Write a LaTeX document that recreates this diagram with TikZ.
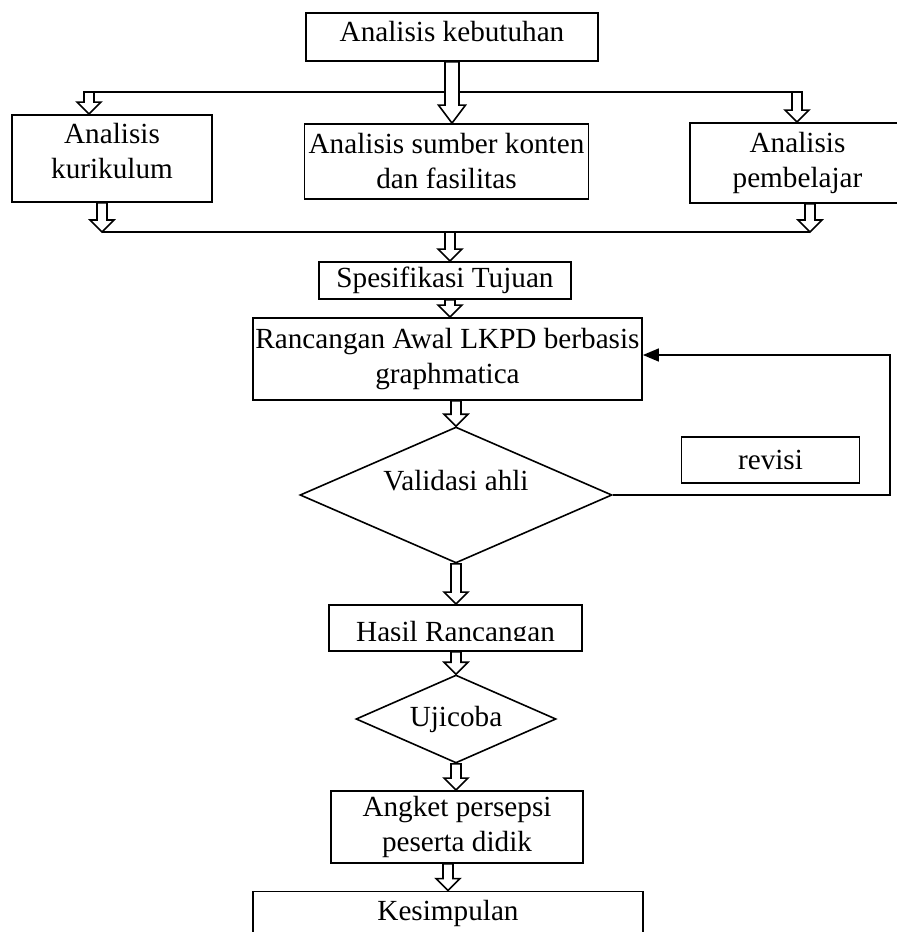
\documentclass[tikz,border=0pt]{standalone}
\usepackage{fontspec}
\setmainfont{Liberation Serif}
\usepackage{tikz}
\usetikzlibrary{shapes.geometric,arrows.meta,positioning,calc}
\newcommand{\flowfont}{\fontsize{14.6}{17.5}\selectfont}
% hollow block arrow pointing down: start, tip, half shaft, half head, head length
\newcommand{\blockarrow}[5]{%
  \draw[hollow] let \p1=#1, \p2=#2 in
    (\x2-#3,\y1) -- (\x2-#3,\y2+#5) -- (\x2-#4,\y2+#5) -- (\x2,\y2)
    -- (\x2+#4,\y2+#5) -- (\x2+#3,\y2+#5) -- (\x2+#3,\y1) -- cycle;}
\newcommand{\smallarrow}[2]{\blockarrow{#1}{#2}{2.5pt}{6pt}{6pt}}

\begin{document}
\begin{tikzpicture}[x=0.5pt, y=-0.5pt,
  box/.style={draw, rectangle, line width=0.9pt, inner sep=0pt, align=center, font=\flowfont},
  decision/.style={draw, diamond, line width=0.8pt, inner sep=0pt, font=\flowfont},
  hollow/.style={draw, fill=white, line width=0.8pt},
  txt/.style={inner sep=0pt, font=\flowfont}
]
\useasboundingbox (0,0) rectangle (896,932);

\node[box, minimum width=146pt, minimum height=24pt, text depth=6pt] (keb) at (452,37) {Analisis kebutuhan};
\node[box, minimum width=100pt, minimum height=43.5pt, text depth=8pt] (kur) at (112,158.5) {Analisis\\kurikulum};
\node[box, minimum width=142pt, minimum height=37.5pt] (sum) at (446.5,161.5) {Analisis sumber konten\\dan fasilitas};
\node[box, minimum width=107.5pt, minimum height=40pt] (pem) at (797.5,163) {Analisis\\pembelajar};
\node[box, minimum width=126pt, minimum height=18.5pt] (spe) at (445,280.5) {Spesifikasi Tujuan};
\node[box, minimum width=194.5pt, minimum height=41pt] (ran) at (447.5,359) {Rancangan Awal LKPD berbasis\\graphmatica};
\node[decision, aspect=2.3, minimum width=156pt, minimum height=68pt,
  label={[txt, yshift=7pt]center:Validasi ahli}] (val) at (456,495) {};
\node[box, minimum width=89pt, minimum height=23pt] (rev) at (770.5,460) {revisi};
\node[box, minimum width=126.5pt, minimum height=23pt] (has) at (455.5,628) {};
\node[decision, aspect=2.27, minimum width=100pt, minimum height=44pt] (uji) at (456,719) {Ujicoba};
\node[box, minimum width=126pt, minimum height=36pt] (ang) at (457,827) {Angket persepsi\\peserta didik};
\node[box, minimum width=195pt, minimum height=21.5pt] (kes) at (448,913) {Kesimpulan};

% text of the result box is cut off at its lower part
\begin{scope}
  \clip (has.north west) rectangle ($(has.south east)+(0,-11)$);
  \node[txt] (hastext) at ([yshift=-3.5pt]has.center) {Hasil Rancangan};
\end{scope}

% branch lines
\coordinate (tl) at (89,92);
\coordinate (tr) at (797,92);
\coordinate (bl) at (102,232);
\coordinate (br) at (810,232);
\coordinate (bm) at (450,232);
\draw[line width=0.9pt] (tl) -- (tr);
\draw[line width=0.9pt] (bl) -- (br);

% revision loop
\coordinate (fb) at (890,355);
\draw[line width=0.8pt, -{Triangle[length=8pt,width=6.5pt]}] (val.east) -| (fb) -- (ran.east |- fb);

% block arrows
\blockarrow{(keb.south)}{(sum.north -| keb.south)}{3.5pt}{6.75pt}{9pt}
\smallarrow{(tl)}{(tl |- kur.north)}
\smallarrow{(tr)}{(tr |- pem.north)}
\smallarrow{(kur.south -| bl)}{(bl)}
\smallarrow{(pem.south -| br)}{(br)}
\smallarrow{(bm)}{(bm |- spe.north)}
\smallarrow{(spe.south -| bm)}{(ran.north -| bm)}
\smallarrow{(ran.south -| val.north)}{(val.north)}
\smallarrow{(val.south)}{(val.south |- has.north)}
\smallarrow{(has.south -| uji.north)}{(uji.north)}
\smallarrow{(uji.south)}{(uji.south |- ang.north)}
\smallarrow{(ang.south -| kes.north)}{(kes.north)}
\end{tikzpicture}
\end{document}
